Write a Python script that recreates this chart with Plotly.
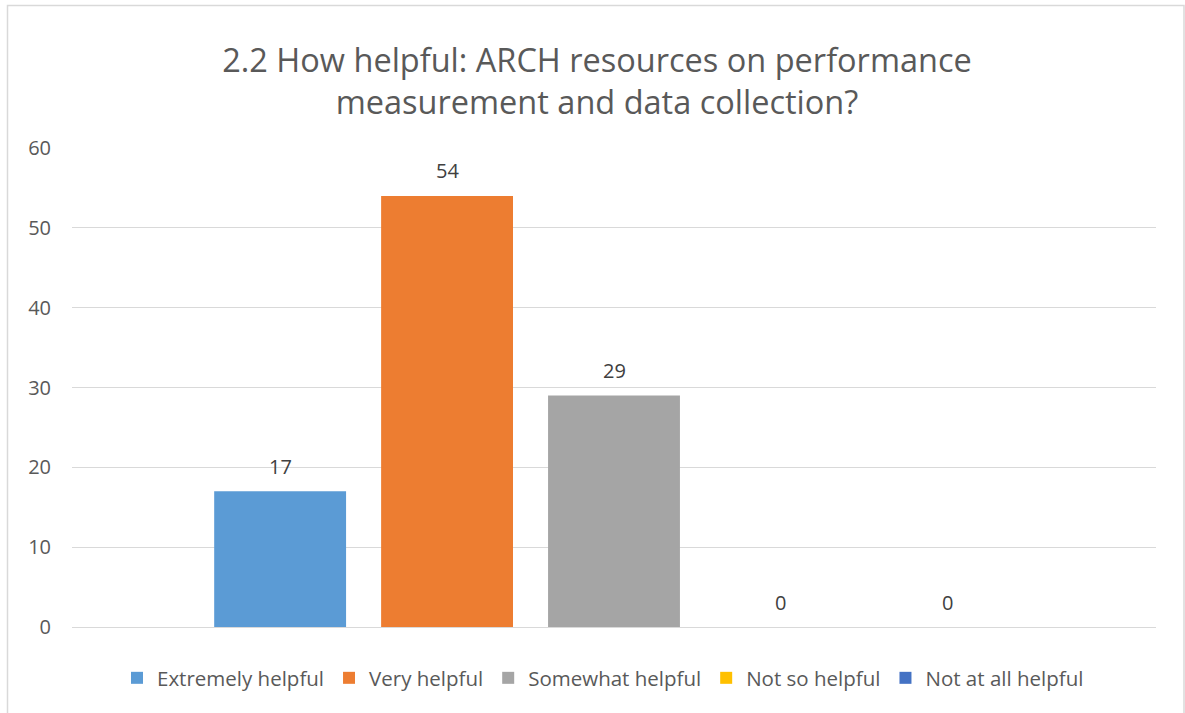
import plotly.graph_objects as go

category = ["2.2"]
series_names = ["Extremely helpful", "Very helpful", "Somewhat helpful", "Not so helpful", "Not at all helpful"]
series_values = [17, 54, 29, 0, 0]
series_colors = ["#5B9BD5", "#ED7D31", "#A5A5A5", "#FFC000", "#4472C4"]
y_ticks = [0, 10, 20, 30, 40, 50, 60]

title_text = "2.2 How helpful: ARCH resources on performance<br>measurement and data collection?"

FONT = "Open Sans"
TXT = "#595959"
LBL = "#404040"

W, H = 1185, 713
L, R, T, B = 72, 29, 148, 86
pw, ph = W - L - R, H - T - B
BARGAP = 0.23
n = len(series_names)
slot = pw * (1 - BARGAP) / n

def px_x(x):
    return (x - L) / pw

def px_y(y):
    return (H - B - y) / ph

fig = go.Figure()
annotations = []
cat_index = 0  # index of the single category on the category axis
for i, (name, val, col) in enumerate(zip(series_names, series_values, series_colors)):
    fig.add_trace(go.Bar(
        x=category, y=[val], name=name, marker_color=col, marker_line_width=0,
        hoverinfo="skip",
    ))
    annotations.append(dict(
        x=cat_index, y=val, xref="x", yref="y", text=str(val), showarrow=False,
        xshift=(i - (n - 1) / 2) * slot, yshift=25, yanchor="middle", xanchor="center",
        font=dict(family=FONT, size=20, color=LBL),
    ))

fig.update_layout(
    width=W, height=H,
    margin=dict(l=L, r=R, t=T, b=B),
    paper_bgcolor="white", plot_bgcolor="white",
    barmode="group", bargap=BARGAP, bargroupgap=0.21,
    title=dict(text=title_text, x=px_x(597), xanchor="center", xref="paper",
               y=1 - 72 / H, yref="container", yanchor="middle",
               font=dict(family=FONT, size=32.5, color=TXT)),
    font=dict(family=FONT, color=TXT),
    showlegend=True,
    legend=dict(orientation="h", x=px_x(603), xanchor="center", y=px_y(678), yanchor="middle",
                font=dict(family=FONT, size=20.5, color=TXT), itemwidth=30,
                traceorder="normal"),
    xaxis=dict(type="category", range=[-0.5, 0.5], autorange=False,
               showticklabels=False, showgrid=False, zeroline=False, showline=False),
    yaxis=dict(range=[0, 60], tickvals=y_ticks, showgrid=True, gridcolor="#D9D9D9",
               gridwidth=1, zeroline=True, zerolinecolor="#D9D9D9", zerolinewidth=1,
               showline=False, ticklabelstandoff=20,
               tickfont=dict(family=FONT, size=20, color=TXT)),
    annotations=annotations,
    shapes=[dict(type="rect", xref="paper", yref="paper",
                 x0=px_x(7.5), x1=px_x(1184), y0=px_y(720), y1=px_y(5.5),
                 line=dict(color="#D9D9D9", width=1.5), fillcolor="rgba(0,0,0,0)",
                 layer="below")],
)

fig.write_html("out.html", config={"displayModeBar": False},
               post_script="document.body.style.margin='0px';document.body.style.padding='0px';")
